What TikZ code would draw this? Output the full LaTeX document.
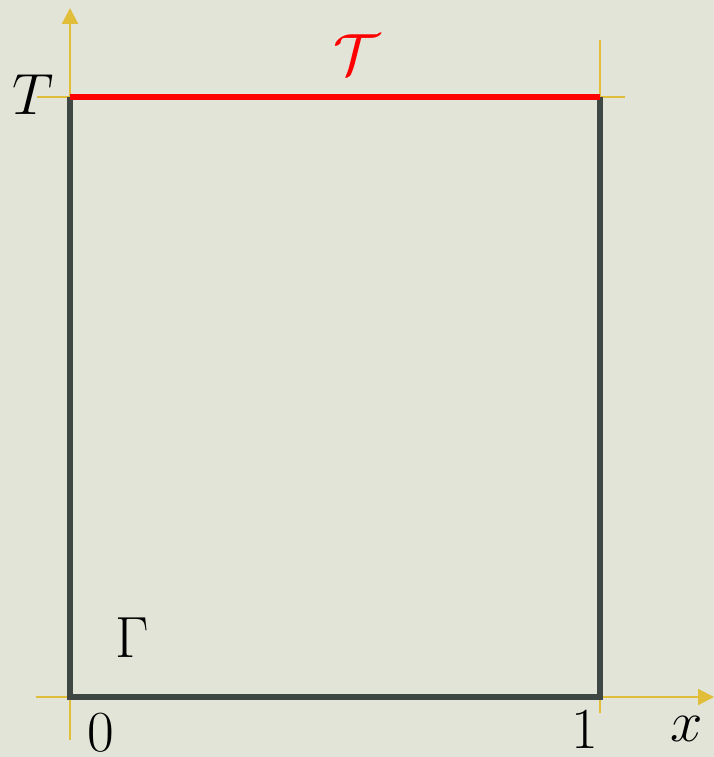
\documentclass[tikz,border=0pt]{standalone}
\usetikzlibrary{arrows.meta}
\definecolor{bgcol}{HTML}{E3E4D8}
\definecolor{axiscol}{HTML}{E0BE3A}
\definecolor{wallcol}{HTML}{3F4745}
\newcommand{\biglbl}[1]{\scalebox{1.33}{\Huge$#1$}}
\tikzset{
  axis/.style={axiscol,line width=1.2pt},
  wall/.style={wallcol,line width=3.4pt,line join=miter},
  lbl/.style={inner sep=0pt},
}
\begin{document}
\begin{tikzpicture}
  \fill[bgcol] (-1.4,-1.2) rectangle (12.88,13.94);
  \useasboundingbox (-1.4,-1.2) rectangle (12.88,13.94);
  \coordinate (O) at (0,0);
  \coordinate (A) at (10.6,0);
  \coordinate (B) at (10.6,12);
  \coordinate (C) at (0,12);
  % axes and guide lines
  \draw[axis,-{Triangle[width=9pt,length=9pt]}] (-0.68,0) -- (12.88,0);
  \draw[axis,-{Triangle[width=9pt,length=9pt]}] (0,-0.86) -- (0,13.78);
  \draw[axis] (10.6,-0.32) -- (10.6,13.14);
  \draw[axis] (-0.66,12) -- (11.1,12);
  % domain
  \draw[wall] (B) -- (A) -- (O) -- (C);
  \draw[red,line width=3.4pt] (C) -- (B);
  \node[lbl] (labT) at (-0.74,12.04) {\biglbl{T}};
  \node[lbl,red] (labcalT) at (5.74,12.84) {\biglbl{\mathcal{T}}};
  \node[lbl] (labGamma) at (1.24,1.18) {\biglbl{\Gamma}};
  \node[lbl] (labzero) at (0.62,-0.72) {\biglbl{0}};
  \node[lbl] (labone) at (10.3,-0.66) {\biglbl{1}};
  \node[lbl] (labx) at (12.34,-0.64) {\biglbl{x}};
\end{tikzpicture}
\end{document}
